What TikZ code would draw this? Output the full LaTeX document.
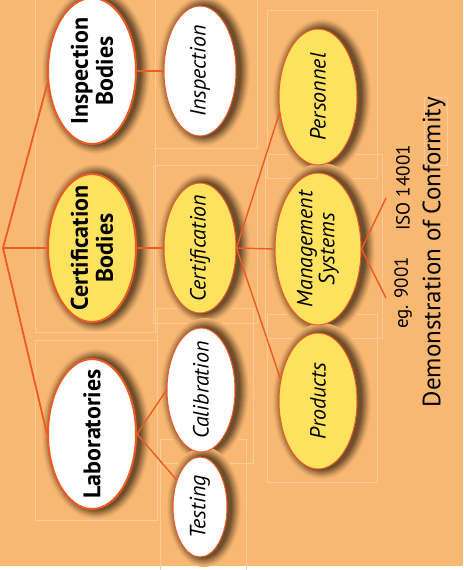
\documentclass[tikz,border=0pt]{standalone}
\usepackage{fontspec}
\setmainfont{PT Sans}
\usetikzlibrary{shapes.geometric}
\definecolor{bgorange}{HTML}{F9B872}
\definecolor{lineorange}{HTML}{EE5A24}
\definecolor{bodyyellow}{HTML}{FFE35E}
\definecolor{framelight}{HTML}{FCCB98}
\definecolor{shadowbrown}{HTML}{3A2410}
\begin{document}
\begin{tikzpicture}[x=1pt,y=-1pt,
  body/.style={ellipse, draw=lineorange, line width=2pt, rotate=90, align=center,
    inner xsep=-16pt, inner ysep=0pt, font=\bfseries\fontsize{24}{25}\selectfont},
  field/.style={ellipse, draw=lineorange, line width=1pt, rotate=90, align=center,
    inner xsep=-16pt, inner ysep=0pt, font=\itshape\fontsize{22}{22}\selectfont},
  link/.style={draw=lineorange, line width=1.8pt},
  frame/.style={draw=framelight, line width=0.6pt}]
\useasboundingbox (0,0) rectangle (463,570);
\fill[white] (0,0) rectangle (463,570);
\fill[bgorange] (0,0) rectangle (463,566);
% faint frames
\draw[frame] (35,-1) -- (35,332) -- (155,332) -- (155,-1);
\draw[frame] (35,340) rectangle (157,520);
\draw[frame] (155,-1) rectangle (257,148);
\draw[frame] (153,165) rectangle (257,323);
\draw[frame] (157,308) rectangle (253,463);
\draw[frame] (160,439) rectangle (246,570);
\draw[frame] (267,10) rectangle (377,178);
\draw[frame] (265,154) rectangle (382,338);
\draw[frame] (267,314) rectangle (377,482);
\draw[frame] (424,97) rectangle (447,165);
% soft shadows
\foreach \px/\py/\rw/\rh in {92/71/73/44, 92/248/74/44, 92/434/75/44, 200/71/65/36, 200/248/65/36, 201/390/62/34, 200/507/50/27, 318/97/68/39, 318/249/76/43, 318/401/68/39}{
  \foreach \d/\c in {10/5, 9/10, 8/16, 7/24, 6/32, 5/40, 4/48, 3/56, 2/64, 1/72}{
    \fill[shadowbrown!\c!bgorange] (\px+4,\py) ellipse ({\rh+\d} and {\rw+\d});
  }
}
% bodies
\node[body, fill=white, minimum width=146pt, minimum height=88pt] (insb) at (92,71) {Inspection\\Bodies};
\node[body, fill=bodyyellow, minimum width=148pt, minimum height=88pt] (certb) at (92,248) {Certification\\Bodies};
\node[body, fill=white, minimum width=150pt, minimum height=88pt] (lab) at (92,434) {Laboratories};
% fields
\node[field, fill=white, minimum width=130pt, minimum height=72pt] (insp) at (200,71) {Inspection};
\node[field, fill=bodyyellow, minimum width=130pt, minimum height=72pt] (cert) at (200,248) {Certification};
\node[field, fill=white, minimum width=124pt, minimum height=68pt] (cal) at (201,390) {Calibration};
\node[field, fill=white, minimum width=100pt, minimum height=54pt] (test) at (200,507) {Testing};
\node[field, fill=bodyyellow, minimum width=136pt, minimum height=78pt] (pers) at (318,97) {Personnel};
\node[field, fill=bodyyellow, minimum width=152pt, minimum height=86pt] (mgmt) at (318,249) {Management\\Systems};
\node[field, fill=bodyyellow, minimum width=136pt, minimum height=78pt] (prod) at (318,401) {Products};
% connectors
\coordinate (root) at (3,248);
\coordinate (isoa) at (386,198);
\coordinate (isob) at (386,298);
\draw[link] (root) -- (insb.105);
\draw[link] (root) -- (certb.north);
\draw[link] (root) -- (lab.north);
\draw[link] (insb.south) -- (insp.north);
\draw[link] (certb.south) -- (cert.north);
\draw[link, line width=1.4pt] (lab.south) -- (cal.north);
\draw[link, line width=1.4pt] (lab.south) -- (test);
\draw[link, line width=1.4pt] (cert.south) -- (pers.112);
\draw[link, line width=1.4pt] (cert.south) -- (mgmt.north);
\draw[link, line width=1.4pt] (cert.south) -- (prod.60);
\draw[link, line width=1.4pt] (mgmt.south) -- (isoa);
\draw[link, line width=1.4pt] (mgmt.south) -- (isob);
% texts
\node[rotate=90, font=\fontsize{19}{20}\selectfont] (iso) at (403,188) {ISO 14001};
\node[rotate=90, font=\fontsize{19}{20}\selectfont] (eg) at (403,293) {eg. 9001};
\node[rotate=90, font=\fontsize{25}{26}\selectfont] (demo) at (434,252) {Demonstration of Conformity};
\end{tikzpicture}
\end{document}
